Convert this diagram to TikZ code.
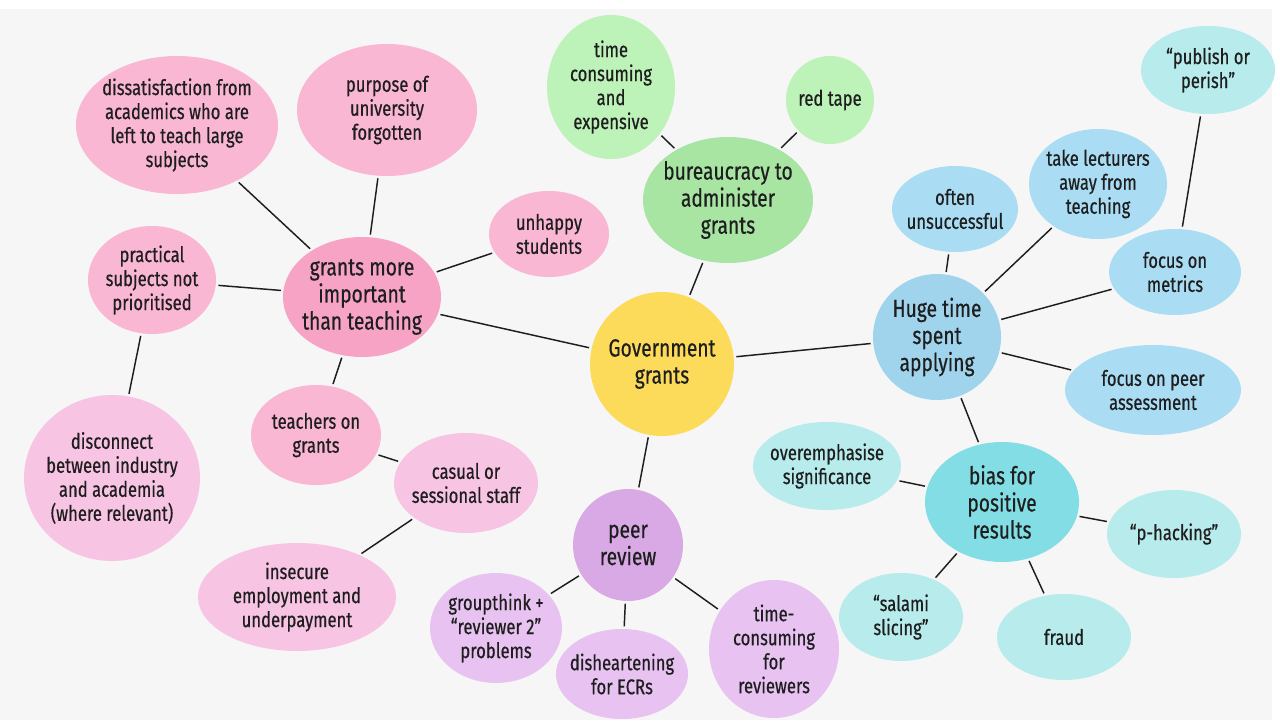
\documentclass[tikz,border=0pt]{standalone}
\usepackage{fontspec}
\setmainfont{Fira Sans}[FakeStretch=0.78,FakeBold=0.5]
\usetikzlibrary{shapes.geometric}
\definecolor{bggray}{HTML}{F6F6F6}
\definecolor{pinkC}{HTML}{F7A3C6}
\definecolor{pinkA}{HTML}{F9B7D3}
\definecolor{pinkB}{HTML}{F8C4E4}
\definecolor{purpleC}{HTML}{D8A9E4}
\definecolor{purpleA}{HTML}{E8C3F2}
\definecolor{greenC}{HTML}{A8E4A2}
\definecolor{greenA}{HTML}{BDF2B8}
\definecolor{yellowC}{HTML}{FDDB5A}
\definecolor{blueC}{HTML}{9FD4EC}
\definecolor{blueA}{HTML}{AADDF4}
\definecolor{cyanC}{HTML}{82DEE4}
\definecolor{cyanA}{HTML}{B8EBEC}
\definecolor{inkc}{HTML}{1E1E1E}
\newcommand\mybub[8]{%
  \node[bubble, fill=#6, minimum width=#4*1.5pt, minimum height=#5*1.5pt] (#1) at (#2,#3) {};
  \node[#8] (#1-t) at (#1) {#7};
}
\begin{document}
\begin{tikzpicture}[x=0.75pt,y=-0.75pt,
  bubble/.style={ellipse, draw=none, inner sep=0pt, outer sep=0pt},
  txtS/.style={align=center, text=inkc, inner sep=0pt, font=\fontsize{16}{18}\selectfont},
  txtB/.style={align=center, text=inkc, inner sep=0pt, font=\fontsize{18.5}{20.3}\selectfont},
  link/.style={draw=inkc, line width=1.1pt, shorten <=2pt, shorten >=2pt}]
\useasboundingbox (0,0) rectangle (1280,724);
\fill[white] (0,0) rectangle (1280,724);
\fill[bggray] (0,9) rectangle (1272,720);
% centre
\mybub{gov}{662}{364}{72}{72}{yellowC}{Government\\grants}{txtB}
% pink group
\mybub{gmi}{362}{297}{79}{60}{pinkC}{grants more\\important\\than teaching}{txtB}
\mybub{dis}{177}{125}{101}{69}{pinkA}{dissatisfaction from\\academics who are\\left to teach large\\subjects}{txtS}
\mybub{pur}{387}{110}{90}{66}{pinkA}{purpose of\\university\\forgotten}{txtS}
\mybub{unh}{549}{234}{60}{43}{pinkA}{unhappy\\students}{txtS}
\mybub{pra}{152}{280}{64}{54}{pinkA}{practical\\subjects not\\prioritised}{txtS}
\mybub{dsc}{112}{478}{88}{83}{pinkB}{disconnect\\between industry\\and academia\\(where relevant)}{txtS}
\mybub{tea}{316}{435}{65}{50}{pinkA}{teachers on\\grants}{txtS}
\mybub{cas}{466}{483}{72}{50}{pinkB}{casual or\\sessional staff}{txtS}
\mybub{ins}{297}{597}{99}{54}{pinkB}{insecure\\employment and\\underpayment}{txtS}
% purple group
\mybub{pee}{628}{545}{55}{56}{purpleC}{peer\\review}{txtB}
\mybub{grp}{496}{628}{66}{55}{purpleA}{groupthink +\\“reviewer 2”\\problems}{txtS}
\mybub{dih}{622}{674}{66}{45}{purpleA}{disheartening\\for ECRs}{txtS}
\mybub{tcr}{774}{649}{65}{69}{purpleA}{time-\\consuming\\for\\reviewers}{txtS}
% green group
\mybub{bur}{728}{200}{85}{63}{greenC}{bureaucracy to\\administer\\grants}{txtB}
\mybub{tce}{611}{87}{64}{72}{greenA}{time\\consuming\\and\\expensive}{txtS}
\mybub{red}{830}{100}{44}{44}{greenA}{red tape}{txtS}
% blue group
\mybub{hug}{937}{337}{64}{63}{blueC}{Huge time\\spent\\applying}{txtB}
\mybub{oft}{955}{209}{63}{43}{blueA}{often\\unsuccessful}{txtS}
\mybub{tak}{1098}{184}{69}{55}{blueA}{take lecturers\\away from\\teaching}{txtS}
\mybub{met}{1175}{272}{66}{43}{blueA}{focus on\\metrics}{txtS}
\mybub{pub}{1208}{70}{67}{44}{cyanA}{“publish or\\perish”}{txtS}
\mybub{fpa}{1153}{390}{88}{45}{blueA}{focus on peer\\assessment}{txtS}
% cyan group
\mybub{bia}{1002}{502}{77}{60}{cyanC}{bias for\\positive\\results}{txtB}
\mybub{ove}{827}{466}{74}{44}{cyanA}{overemphasise\\significance}{txtS}
\mybub{pha}{1174}{534}{67}{44}{cyanA}{“p-hacking”}{txtS}
\mybub{sal}{901}{617}{62}{44}{cyanA}{“salami\\slicing”}{txtS}
\mybub{fra}{1064}{637}{67}{43}{cyanA}{fraud}{txtS}
% links
\draw[link] (gov) -- (gmi);
\draw[link] (gov) -- (bur);
\draw[link] (gov) -- (hug);
\draw[link] (gov) -- (pee);
\draw[link] (gmi) -- (dis);
\draw[link] (gmi) -- (pur);
\draw[link] (gmi) -- (unh);
\draw[link] (gmi) -- (pra);
\draw[link] (gmi) -- (tea);
\draw[link] (pra) -- (dsc);
\draw[link] (tea) -- (cas);
\draw[link] (cas) -- (ins);
\draw[link] (bur) -- (tce);
\draw[link] (bur) -- (red);
\draw[link] (hug) -- (oft);
\draw[link] (hug) -- (tak);
\draw[link] (hug) -- (met);
\draw[link] (hug) -- (fpa);
\draw[link] (hug) -- (bia);
\draw[link] (met) -- (pub);
\draw[link] (bia) -- (ove);
\draw[link] (bia) -- (pha);
\draw[link] (bia) -- (sal);
\draw[link] (bia) -- (fra);
\draw[link] (pee) -- (grp);
\draw[link] (pee) -- (dih);
\draw[link] (pee) -- (tcr);
\end{tikzpicture}
\end{document}
